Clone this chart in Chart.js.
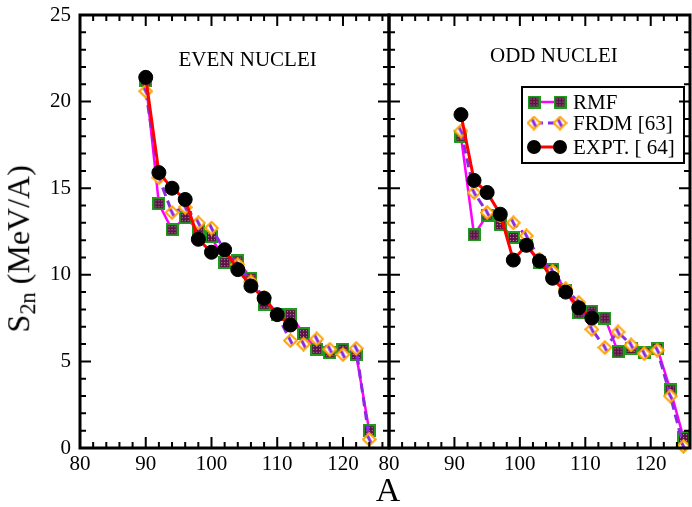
<!DOCTYPE html>
<html lang="en">

<head>
  <meta charset="UTF-8">
  <title>S2n even / odd nuclei</title>
  <script src="https://cdn.jsdelivr.net/npm/chart.js"></script>
  <style>
    body {
      margin: 0;
      background: #fff;
      font-family: "Liberation Serif", serif;
    }

    #wrap {
      position: relative;
      width: 692px;
      height: 507px;
      overflow: hidden;
    }

    .panel {
      position: absolute;
      top: 0;
    }

    #ytitle {
      position: absolute;
      left: -127px;
      top: 226px;
      width: 300px;
      text-align: center;
      font-size: 32px;
      line-height: 36px;
      transform: rotate(-90deg);
      white-space: nowrap;
    }

    #ytitle sub {
      font-size: 0.7em;
      vertical-align: -0.25em;
    }

    #xtitle {
      position: absolute;
      left: 338px;
      top: 470px;
      width: 100px;
      text-align: center;
      font-size: 34px;
      line-height: 40px;
    }
  </style>
</head>

<body>
  <div id="wrap">
    <canvas id="evenCanvas" class="panel" style="left:0px" width="392" height="507"></canvas>
    <canvas id="oddCanvas" class="panel" style="left:370px" width="322" height="507"></canvas>
    <div id="ytitle">S<sub>2n</sub> (MeV/A)</div>
    <div id="xtitle">A</div>
  </div>

  <script>
    // tick labels
    const xTicks = [80, 90, 100, 110, 120];
    const yTicks = [0, 5, 10, 15, 20, 25];

    // even nuclei (left panel)
    const evenA = [90, 92, 94, 96, 98, 100, 102, 104, 106, 108, 110, 112, 114, 116, 118, 120, 122, 124];
    const evenRMF = [21.2, 14.1, 12.6, 13.3, 12.6, 12.2, 10.7, 10.8, 9.8, 8.3, 7.7, 7.7, 6.6, 5.7, 5.5, 5.7, 5.4, 1.0];
    const evenFRDM = [20.6, 15.6, 13.6, 13.9, 13.0, 12.7, 11.4, 10.6, 9.6, 8.7, 7.7, 6.2, 6.0, 6.3, 5.7, 5.4, 5.75, 0.5];
    const evenExpt = [21.4, 15.9, 15.0, 14.35, 12.05, 11.3, 11.45, 10.3, 9.35, 8.65, 7.7, 7.1];

    // odd nuclei (right panel)
    const oddA = [91, 93, 95, 97, 99, 101, 103, 105, 107, 109, 111, 113, 115, 117, 119, 121, 123, 125];
    const oddRMF = [18.0, 12.3, 13.45, 12.9, 12.15, 11.7, 10.7, 10.3, 9.1, 7.8, 7.9, 7.5, 5.55, 5.75, 5.5, 5.75, 3.35, 0.6];
    const oddFRDM = [18.3, 14.75, 13.6, 13.4, 13.0, 12.25, 10.9, 10.2, 9.2, 8.4, 6.85, 5.8, 6.7, 5.95, 5.45, 5.65, 3.0, 0.1];
    const oddExpt = [19.25, 15.45, 14.75, 13.5, 10.85, 11.7, 10.8, 9.8, 9.0, 8.1, 7.5];

    const serif = "'Liberation Serif', 'Times New Roman', serif";

    // markers (xmgrace look)
    function squareMarker() {
      const c = document.createElement('canvas');
      c.width = c.height = 13;
      const g = c.getContext('2d');
      g.fillStyle = '#1f9a1f';
      g.fillRect(0, 0, 13, 13);
      g.fillStyle = '#5c1446';
      g.fillRect(2, 2, 9, 9);
      g.fillStyle = '#c98cbc';
      for (let i = 3; i < 11; i += 3)
        for (let j = 3; j < 11; j += 3) g.fillRect(i, j, 1, 1);
      return c;
    }

    function diamondPath(g) {
      g.beginPath();
      g.moveTo(7.5, 1.2);
      g.lineTo(13.8, 7.5);
      g.lineTo(7.5, 13.8);
      g.lineTo(1.2, 7.5);
      g.closePath();
    }

    function diamondMarker() {
      const c = document.createElement('canvas');
      c.width = c.height = 15;
      const g = c.getContext('2d');
      diamondPath(g);
      g.fillStyle = '#fff';
      g.fill();
      g.save();
      g.clip();
      g.strokeStyle = '#8a2be2';
      g.lineWidth = 3;
      g.beginPath();
      g.moveTo(5.5, 3.5);
      g.lineTo(9.5, 11.5);
      g.stroke();
      g.restore();
      g.strokeStyle = '#ffa500';
      g.lineWidth = 2;
      diamondPath(g);
      g.stroke();
      return c;
    }

    const sq = squareMarker();
    const dia = diamondMarker();

    const pts = (xs, ys) => ys.map((y, i) => ({ x: xs[i], y: y }));

    function makeDatasets(xs, rmf, frdm, expt) {
      return [
        {
          label: 'RMF', data: pts(xs, rmf), order: 3,
          borderColor: '#ff00ff', borderWidth: 2.5,
          pointStyle: sq, pointRadius: 7, clip: false
        },
        {
          label: 'FRDM [63]', data: pts(xs, frdm), order: 2,
          borderColor: '#8a2be2', borderWidth: 3, borderDash: [9, 5],
          pointStyle: dia, pointRadius: 7, clip: false
        },
        {
          label: 'EXPT. [ 64]', data: pts(xs, expt), order: 1,
          borderColor: '#ff0000', borderWidth: 3,
          pointStyle: 'circle', pointRadius: 7,
          pointBackgroundColor: '#000', pointBorderColor: '#000', pointBorderWidth: 1, clip: false
        }
      ];
    }

    // frame, inward ticks, panel label, legend
    const framePlugin = {
      id: 'frame',
      afterDraw(chart, args, opts) {
        const ctx = chart.ctx;
        const a = chart.chartArea;
        const xs = chart.scales.x, ys = chart.scales.y;
        ctx.save();
        ctx.strokeStyle = '#000';
        ctx.lineWidth = 2;
        for (let v = Math.ceil(xs.min / 2) * 2; v <= xs.max; v += 2) {
          const px = xs.getPixelForValue(v);
          const len = v % 10 === 0 ? 11 : 6;
          ctx.beginPath();
          ctx.moveTo(px, a.bottom); ctx.lineTo(px, a.bottom - len);
          ctx.moveTo(px, a.top); ctx.lineTo(px, a.top + len);
          ctx.stroke();
        }
        for (let v = 0; v <= ys.max; v += 1) {
          const py = ys.getPixelForValue(v);
          const len = v % 5 === 0 ? 11 : 6;
          ctx.beginPath();
          ctx.moveTo(a.left, py); ctx.lineTo(a.left + len, py);
          ctx.moveTo(a.right, py); ctx.lineTo(a.right - len, py);
          ctx.stroke();
        }
        ctx.lineWidth = 3;
        ctx.strokeRect(a.left, a.top, a.right - a.left, a.bottom - a.top);

        ctx.fillStyle = '#000';
        ctx.font = '21px ' + serif;
        ctx.textAlign = 'center';
        ctx.textBaseline = 'middle';
        ctx.fillText(opts.title, xs.getPixelForValue(opts.tx), ys.getPixelForValue(opts.ty));

        if (opts.legend) {
          const L = a.left + 133, T = a.top + 72;
          ctx.lineWidth = 2;
          ctx.strokeRect(L, T, 162, 76);
          const rows = [15, 36, 60];
          chart.data.datasets.forEach((ds, i) => {
            const y = T + rows[i];
            const x1 = L + 12, x2 = L + 38;
            ctx.save();
            ctx.strokeStyle = ds.borderColor;
            ctx.lineWidth = ds.borderWidth;
            ctx.setLineDash(ds.borderDash || []);
            ctx.beginPath();
            ctx.moveTo(x1, y); ctx.lineTo(x2, y);
            ctx.stroke();
            ctx.restore();
            [x1, x2].forEach(x => {
              if (ds.pointStyle === 'circle') {
                ctx.beginPath();
                ctx.arc(x, y, 7, 0, Math.PI * 2);
                ctx.fillStyle = '#000';
                ctx.fill();
              } else {
                const img = ds.pointStyle;
                ctx.drawImage(img, x - img.width / 2, y - img.height / 2);
              }
            });
            ctx.fillStyle = '#000';
            ctx.textAlign = 'left';
            ctx.font = '21px ' + serif;
            ctx.fillText(ds.label, L + 51, y + 1);
          });
        }
        ctx.restore();
      }
    };

    function makeChart(id, xs, rmf, frdm, expt, xMax, showY, pad, panel) {
      return new Chart(document.getElementById(id), {
        type: 'line',
        data: { datasets: makeDatasets(xs, rmf, frdm, expt) },
        options: {
          responsive: false,
          animation: false,
          events: [],
          layout: { padding: pad, autoPadding: false },
          plugins: {
            legend: { display: false },
            tooltip: { enabled: false },
            frame: panel
          },
          scales: {
            x: {
              type: 'linear', min: 80, max: xMax,
              grid: { display: false, drawTicks: false },
              border: { display: false },
              afterBuildTicks: s => { s.ticks = xTicks.map(v => ({ value: v })); },
              afterFit: s => { s.height = 59; s.paddingLeft = 0; s.paddingRight = 0; },
              ticks: { color: '#000', font: { family: serif, size: 21 }, padding: 4, maxRotation: 0 }
            },
            y: {
              display: showY,
              min: 0, max: 25,
              grid: { display: false, drawTicks: false },
              border: { display: false },
              afterBuildTicks: s => { s.ticks = yTicks.map(v => ({ value: v })); },
              afterFit: s => { s.width = showY ? 80 : 0; s.paddingTop = 0; s.paddingBottom = 0; },
              ticks: { color: '#000', font: { family: serif, size: 21 }, padding: 9 }
            }
          }
        },
        plugins: [framePlugin]
      });
    }

    makeChart('evenCanvas', evenA, evenRMF, evenFRDM, evenExpt, 127, true,
      { left: 0, top: 15, right: 3, bottom: 0 },
      { title: 'EVEN NUCLEI', tx: 105.5, ty: 22.4 });

    makeChart('oddCanvas', oddA, oddRMF, oddFRDM, oddExpt, 126, false,
      { left: 19, top: 15, right: 2, bottom: 0 },
      { title: 'ODD NUCLEI', tx: 105.2, ty: 22.6, legend: true });
  </script>
</body>

</html>
